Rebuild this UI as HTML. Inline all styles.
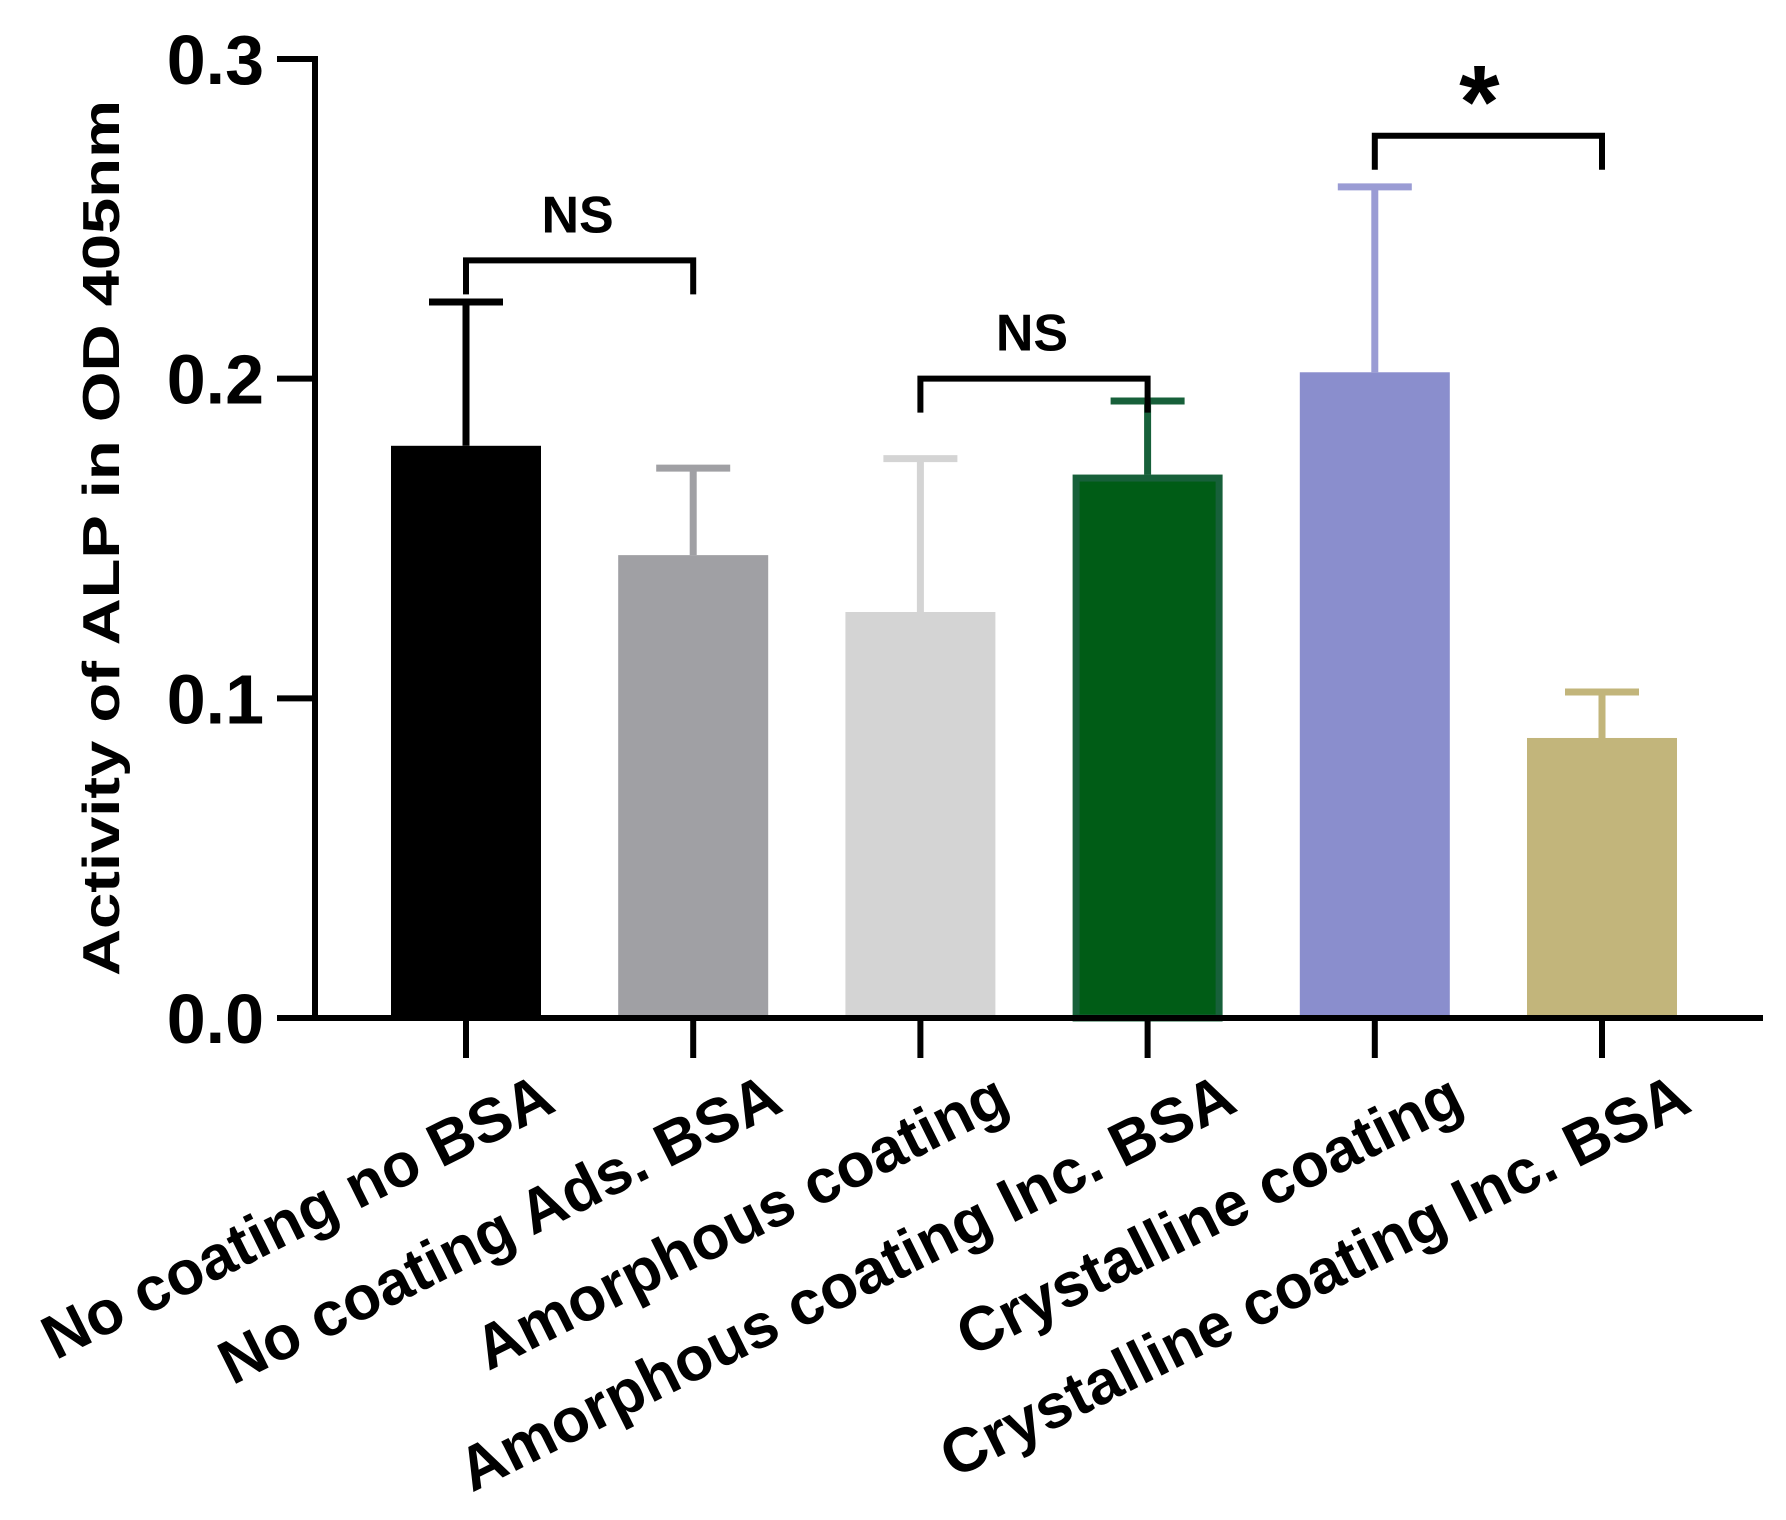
<!DOCTYPE html>
<html><head><meta charset="utf-8"><style>
html,body{margin:0;padding:0;background:#fff;}
svg{display:block;font-family:"Liberation Sans",Arial,sans-serif;font-weight:bold;}
</style></head><body>
<svg id="chart" width="1786" height="1520" viewBox="0 0 1786 1520"></svg>
<script>
const categories = ["No coating no BSA","No coating Ads. BSA","Amorphous coating","Amorphous coating Inc. BSA","Crystalline coating","Crystalline coating Inc. BSA"];
const means = [0.179, 0.1448, 0.127, 0.170, 0.202, 0.0876];
const errUpper = [0.224, 0.172, 0.175, 0.193, 0.260, 0.102];
const barColors = ["#000000","#a0a0a4","#d4d4d4","#005c16","#8a8ecd","#c2b57b"];
const errColors = ["#000000","#a0a0a4","#d4d4d4","#17603a","#9a9cd4","#c2b57b"];
const yTicks = [0.0, 0.1, 0.2, 0.3];
const yTickLabels = ["0.0","0.1","0.2","0.3"];
const comparisons = [[0,1,"NS",0.237],[2,3,"NS",0.2],[4,5,"*",0.276]];

const NS="http://www.w3.org/2000/svg";
const svg=document.getElementById('chart');
const y0=1018, yTop=59, yMax=0.3;
const yS=v=>y0-(v/yMax)*(y0-yTop);
const x0=466, step=227.2, barW=150;
const xS=i=>x0+i*step;
function mk(tag,attrs,parent){const e=document.createElementNS(NS,tag);for(const k in attrs)e.setAttribute(k,attrs[k]);(parent||svg).appendChild(e);return e;}

categories.forEach((c,i)=>{
  const cx=xS(i);
  const eb=mk('line',{x1:cx,x2:cx,y1:yS(means[i]),y2:yS(errUpper[i]),stroke:errColors[i],'stroke-width':7});
  
  
  const cap=mk('line',{x1:cx-37,x2:cx+37,y1:yS(errUpper[i]),y2:yS(errUpper[i]),stroke:errColors[i],'stroke-width':7});
  
  
  const r=mk('rect',{x:cx-barW/2,y:yS(means[i]),width:barW,height:y0-yS(means[i]),fill:barColors[i]});
  if(i===3){r.setAttribute('stroke','#17603a');r.setAttribute('stroke-width',7);r.setAttribute('x',cx-barW/2+3.5);r.setAttribute('width',barW-7);r.setAttribute('y',yS(means[i])+3.5);r.setAttribute('height',y0-yS(means[i])-3.5);}
  
  
  const t=mk('line',{x1:cx,x2:cx,y1:y0,y2:y0+40,stroke:'#000','stroke-width':6});
  
  
  const lbl=mk('text',{x:0,y:0,'text-anchor':'end','font-size':62,fill:'#000',transform:`translate(${cx+92},${y0+92}) rotate(-26.5)`});
  lbl.textContent=c;
  
  
});

const ya=mk('line',{x1:315,x2:315,y1:yTop-3,y2:y0+3,stroke:'#000','stroke-width':6});


const xa=mk('line',{x1:312,x2:1763,y1:y0,y2:y0,stroke:'#000','stroke-width':6});


yTicks.forEach((v,i)=>{
  const t=mk('line',{x1:277,x2:315,y1:yS(v),y2:yS(v),stroke:'#000','stroke-width':6});
  
  
  const l=mk('text',{x:264,y:yS(v)+25,'text-anchor':'end','font-size':70,fill:'#000'});
  l.textContent=yTickLabels[i];
  
  
});
const yt=mk('text',{x:0,y:0,'text-anchor':'middle','font-size':52,fill:'#000',textLength:876,lengthAdjust:'spacingAndGlyphs',transform:'translate(119,538) rotate(-90)'});
yt.textContent='Activity of ALP in OD 405nm';



comparisons.forEach((c,k)=>{
  const a=xS(c[0]), b=xS(c[1]), y=yS(c[3]);
  const p=mk('path',{d:`M${a},${y+34} V${y} H${b} V${y+34}`,fill:'none',stroke:'#000','stroke-width':6});
  
  
  const t=mk('text',{x:(a+b)/2-(c[2]==='*'?9:2),y:c[2]==='*'?y+2:y-28,'text-anchor':'middle','font-size':c[2]==='*'?104:52,fill:'#000'});
  t.textContent=c[2];
  
  
});
</script>
</body></html>
